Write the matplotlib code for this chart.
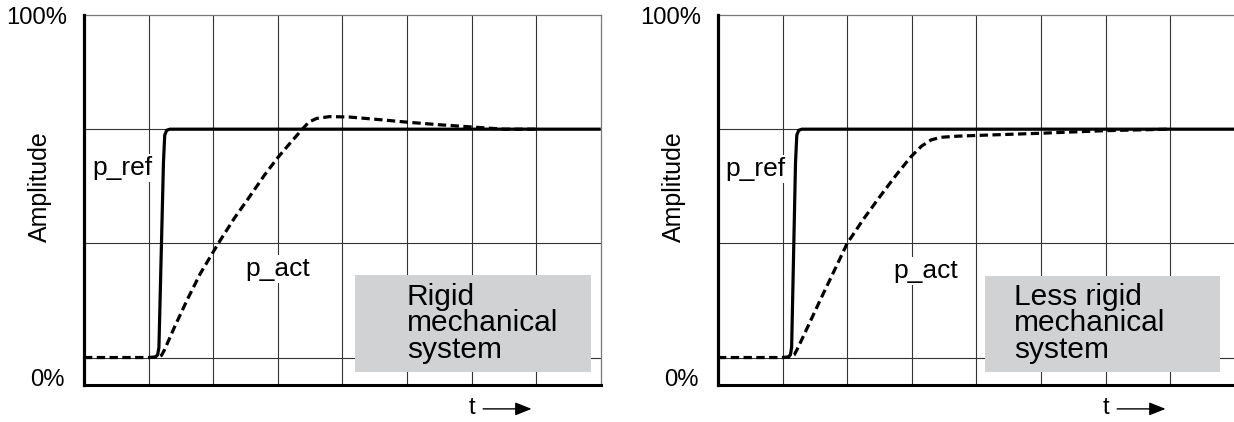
import matplotlib
matplotlib.use("Agg")
import matplotlib.pyplot as plt
from matplotlib.patches import Rectangle

plt.rcParams['font.family'] = ['Liberation Sans', 'DejaVu Sans']
plt.rcParams['lines.scale_dashes'] = False

# ---- data (time in grid columns, amplitude in %) ----
grid_t = [1, 2, 3, 4, 5, 6, 7]
grid_amp = [7.3, 38.2, 69.1]

left_ref_t = [1.0, 1.10, 1.14, 1.16, 1.23, 1.25, 1.28, 1.33, 8]
left_ref_amp = [7.3, 7.4, 8.0, 10, 60, 67.5, 68.8, 69.1, 69.1]
left_act_t = [0, 1.0, 1.15, 1.20, 1.25, 1.40, 1.60, 1.80, 2.08, 2.32, 2.55, 2.80,
              3.00, 3.20, 3.38, 3.48, 3.60, 3.80, 4.10, 4.50, 5.00, 5.50, 6.00, 6.50, 7.00]
left_act_amp = [7.3, 7.3, 7.4, 7.9, 9.5, 15.5, 23.0, 30.0, 38.2, 44.8, 50.5, 56.8,
                61.4, 65.5, 69.1, 71.0, 72.0, 72.5, 72.4, 71.8, 71.0, 70.3, 69.7, 69.1, 69.1]

right_ref_t = [1.0, 1.08, 1.12, 1.14, 1.20, 1.22, 1.25, 1.30, 8]
right_ref_amp = [7.3, 7.4, 8.0, 10, 60, 67.5, 68.8, 69.1, 69.1]
right_act_t = [0, 1.0, 1.12, 1.18, 1.24, 1.40, 1.60, 1.80, 2.00, 2.25, 2.50, 2.75,
               2.98, 3.15, 3.30, 3.45, 3.70, 4.00, 5.00, 6.00, 7.00]
right_act_amp = [7.3, 7.3, 7.4, 8.0, 10, 16, 23.5, 30.8, 38.2, 44.7, 50.7, 56.5,
                 61.5, 64.5, 66.2, 66.9, 67.2, 67.4, 68.0, 68.7, 69.1]

panels = [
    dict(ref_t=left_ref_t, ref_a=left_ref_amp, act_t=left_act_t, act_a=left_act_amp,
         box=(4.195, 3.46, 7.844, 29.6), box_text="Rigid\nmechanical\nsystem", text_x=5.0,
         pref=(0.13, 58.6), pact=(2.50, 31.2)),
    dict(ref_t=right_ref_t, ref_a=right_ref_amp, act_t=right_act_t, act_a=right_act_amp,
         box=(4.127, 3.46, 7.77, 29.4), box_text="Less rigid\nmechanical\nsystem", text_x=4.58,
         pref=(0.12, 58.3), pact=(2.72, 30.7)),
]

W, H = 1234, 422
fig = plt.figure(figsize=(W / 100, H / 100), dpi=100)
ax_left_px = [84, 718]
for px, p in zip(ax_left_px, panels):
    ax = fig.add_axes([px / W, 1 - 384.5 / H, 516.7 / W, 369.5 / H])
    ax.set_xlim(0, 8)
    ax.set_ylim(0, 100)
    grid_c = '#333333'
    for g in grid_t:
        ax.axvline(g, color=grid_c, lw=0.8, zorder=1)
    for g in grid_amp:
        ax.axhline(g, color=grid_c, lw=0.8, zorder=1)
    for s in ['top', 'right']:
        ax.spines[s].set_color('#777777')
        ax.spines[s].set_linewidth(0.9)
    ax.spines['left'].set_linewidth(2.3)
    ax.spines['bottom'].set_linewidth(2.2)
    ax.spines['left'].set_zorder(6)
    ax.spines['bottom'].set_zorder(6)
    ax.set_xticks([])
    ax.set_yticks([])

    x0, y0, x1, y1 = p['box']
    ax.add_patch(Rectangle((x0, y0), x1 - x0, y1 - y0, facecolor='#d1d2d4',
                           edgecolor='none', zorder=3))
    ax.text(p['text_x'], 27.6, p['box_text'], fontsize=21.5, va='top', ha='left',
            linespacing=0.95, zorder=4)

    ax.plot(p['act_t'], p['act_a'], color='black', lw=2.3, zorder=5,
            linestyle=(0, (6.0, 3.2)), dash_joinstyle='round')
    ax.plot(p['ref_t'], p['ref_a'], color='black', lw=2.3, zorder=5,
            solid_joinstyle='round', solid_capstyle='butt')

    bb = dict(facecolor='white', edgecolor='none', pad=1.5)
    ax.text(p['pref'][0], p['pref'][1], 'p_ref', fontsize=19, va='center', ha='left',
            bbox=bb, zorder=4)
    ax.text(p['pact'][0], p['pact'][1], 'p_act', fontsize=19, va='center', ha='left',
            bbox=bb, zorder=4)

    # axis labels
    ax.annotate('100%', xy=(0, 100), xycoords=('axes fraction', 'data'),
                xytext=(-12.3, -2.2), textcoords='offset points',
                ha='right', va='center', fontsize=17.2)
    ax.annotate('0%', xy=(0, 0), xycoords=('axes fraction', 'data'),
                xytext=(-14.0, 2.9), textcoords='offset points',
                ha='right', va='center', fontsize=17.2)
    ax.annotate('Amplitude', xy=(0, 0.535), xycoords='axes fraction',
                xytext=(-31.5, 0), textcoords='offset points',
                ha='center', va='center', rotation=90, fontsize=18)
    ax.annotate('t', xy=(5.96, -0.064), xycoords=('data', 'axes fraction'),
                ha='left', va='center', fontsize=17)
    ax.annotate('', xy=(6.93, -0.066), xytext=(6.18, -0.066),
                xycoords=('data', 'axes fraction'), textcoords=('data', 'axes fraction'),
                annotation_clip=False,
                arrowprops=dict(arrowstyle='-|>,head_length=1.0,head_width=0.4',
                                mutation_scale=10, lw=1.0, color='black',
                                shrinkA=0, shrinkB=0))

fig.savefig('out.png', dpi=100)
